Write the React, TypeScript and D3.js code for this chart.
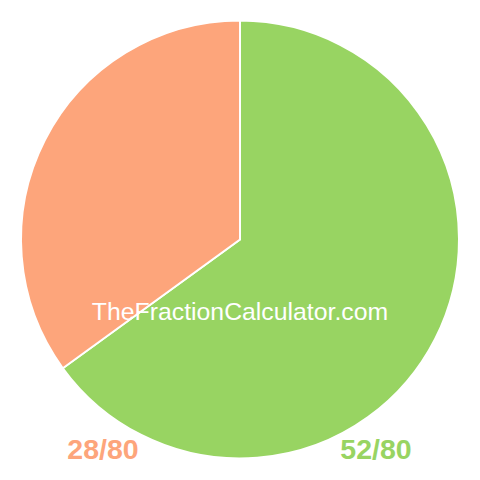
import React from 'react';
import * as d3 from 'd3';

const labels = ['52/80', '28/80'];
const values = [52, 28];
const colors = ['#98d462', '#fda57b'];

const App: React.FC = () => {
  const width = 480;
  const height = 480;
  const cx = 240;
  const cy = 239.5;
  const radius = 219;

  const pie = d3.pie<number>().sort(null).value(d => d);
  const arcs = pie(values);
  const arc = d3.arc<d3.PieArcDatum<number>>().innerRadius(0).outerRadius(radius);

  return (
    <svg
      width={width}
      height={height}
      style={{ position: 'absolute', left: 0, top: 0, background: '#fff' }}
    >
      <g transform={`translate(${cx},${cy})`}>
        {arcs.map((a, i) => (
          <path key={i} d={arc(a) || ''} fill={colors[i]} stroke="#fff" strokeWidth={2} />
        ))}
      </g>
      <text
        x={240}
        y={320}
        textAnchor="middle"
        fill="#fff"
        fontFamily="Liberation Sans, Arial, sans-serif"
        fontSize={24.8}
      >
        TheFractionCalculator.com
      </text>
      <text
        x={103}
        y={459}
        textAnchor="middle"
        fill={colors[1]}
        fontFamily="Liberation Sans, Arial, sans-serif"
        fontWeight="bold"
        fontSize={28.5}
      >
        {labels[1]}
      </text>
      <text
        x={376}
        y={459}
        textAnchor="middle"
        fill={colors[0]}
        fontFamily="Liberation Sans, Arial, sans-serif"
        fontWeight="bold"
        fontSize={28.5}
      >
        {labels[0]}
      </text>
    </svg>
  );
};

export default App;
